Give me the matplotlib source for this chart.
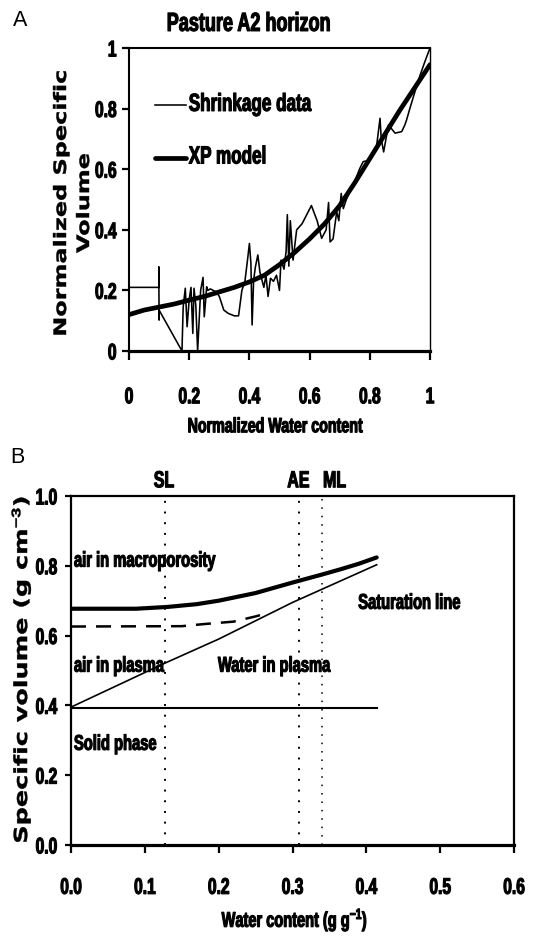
import matplotlib
matplotlib.use("Agg")
import matplotlib.pyplot as plt
from matplotlib.ticker import FixedLocator
from matplotlib.patheffects import AbstractPathEffect
from matplotlib.transforms import Affine2D

plt.rcParams['font.family'] = ['Liberation Sans', 'DejaVu Sans']
plt.rcParams['mathtext.fontset'] = 'custom'
plt.rcParams['mathtext.rm'] = 'Liberation Sans'
plt.rcParams['mathtext.bf'] = 'Liberation Sans:bold'
plt.rcParams['mathtext.it'] = 'Liberation Sans:italic'

# ---------------- Panel A data ----------------
shrink_x = [0.0, 0.099, 0.099, 0.100, 0.100, 0.176, 0.180, 0.187, 0.193, 0.200, 0.206,
            0.212, 0.216, 0.222, 0.228, 0.238, 0.246, 0.250, 0.254, 0.258, 0.262, 0.270,
            0.280, 0.290, 0.300, 0.315, 0.330, 0.350, 0.364, 0.375, 0.385, 0.395, 0.400,
            0.405, 0.409, 0.414, 0.420, 0.428, 0.435, 0.448, 0.455, 0.462, 0.470, 0.480,
            0.490, 0.500, 0.505, 0.515, 0.522, 0.526, 0.531, 0.536, 0.545, 0.557, 0.575,
            0.606, 0.625, 0.640, 0.655, 0.663, 0.668, 0.678, 0.690, 0.697, 0.705, 0.712,
            0.722, 0.734, 0.745, 0.767, 0.778, 0.800, 0.823, 0.834, 0.838, 0.846, 0.862,
            0.884, 0.906, 0.916, 0.922, 0.933, 0.950, 0.967, 0.983, 1.0]
shrink_y = [0.21, 0.21, 0.278, 0.102, 0.135, 0.0, 0.146, 0.207, 0.08, 0.17, 0.21,
            0.058, 0.207, 0.15, 0.0, 0.20, 0.243, 0.113, 0.16, 0.212, 0.20, 0.205,
            0.20, 0.195, 0.18, 0.135, 0.124, 0.116, 0.116, 0.20, 0.229, 0.311, 0.355,
            0.29, 0.086, 0.234, 0.278, 0.317, 0.26, 0.21, 0.25, 0.18, 0.24, 0.23,
            0.25, 0.20, 0.30, 0.27, 0.33, 0.45, 0.28, 0.43, 0.30, 0.40, 0.42,
            0.48, 0.43, 0.372, 0.40, 0.49, 0.36, 0.37, 0.46, 0.43, 0.52, 0.47,
            0.50, 0.526, 0.548, 0.603, 0.625, 0.63, 0.68, 0.768, 0.70, 0.657, 0.746,
            0.719, 0.724, 0.745, 0.762, 0.80, 0.856, 0.91, 0.955, 1.0]

xp_x = [0.0, 0.05, 0.1, 0.15, 0.2, 0.25, 0.3, 0.35, 0.4, 0.45, 0.5, 0.55, 0.6,
        0.65, 0.7, 0.75, 0.8, 0.85, 0.9, 0.95, 1.0]
xp_y = [0.12, 0.135, 0.145, 0.155, 0.168, 0.18, 0.195, 0.21, 0.228, 0.25, 0.285,
        0.325, 0.37, 0.42, 0.48, 0.555, 0.635, 0.715, 0.795, 0.87, 0.945]

a_ticks = [0, 0.2, 0.4, 0.6, 0.8, 1]
a_ticklabels = ['0', '0.2', '0.4', '0.6', '0.8', '1']

# ---------------- Panel B data ----------------
thick_x = [0.0, 0.088, 0.13, 0.17, 0.2, 0.25, 0.3, 0.34, 0.365, 0.39, 0.414]
thick_y = [0.677, 0.677, 0.682, 0.690, 0.700, 0.722, 0.752, 0.775, 0.790, 0.806, 0.824]

sat_x = [0.0, 0.125, 0.2, 0.3, 0.414]
sat_y = [0.395, 0.519, 0.590, 0.695, 0.803]

dash_x = [0.0, 0.15, 0.18, 0.22, 0.25, 0.262]
dash_y = [0.626, 0.627, 0.633, 0.640, 0.655, 0.662]

solid_x = [0.0, 0.414]
solid_y = [0.393, 0.393]

vlines_x = [0.127, 0.309, 0.340]
vlines_lab = ['SL', 'AE', 'ML']
vlines_labx = [0.126, 0.308, 0.357]

b_xticks = [0.0, 0.1, 0.2, 0.3, 0.4, 0.5, 0.6]
b_yticks = [0.0, 0.2, 0.4, 0.6, 0.8, 1.0]


class Reshape(AbstractPathEffect):
    """Scale glyph outlines (narrow/tall lettering) and thicken them slightly."""
    def __init__(self, sx=1.0, sy=1.0, xa='center', ya='center', stroke=0.0):
        super().__init__()
        self.sx, self.sy, self.xa, self.ya, self.stroke = sx, sy, xa, ya, stroke

    def draw_path(self, renderer, gc, tpath, affine, rgbFace=None):
        v = tpath.vertices
        if len(v) == 0:
            return
        xs, ys = v[:, 0], v[:, 1]
        cx = {'left': 0.0, 'right': xs.max(), 'center': 0.5 * (xs.min() + xs.max())}[self.xa]
        cy = {'baseline': 0.0, 'top': ys.max(), 'bottom': ys.min(),
              'center': 0.5 * (ys.min() + ys.max())}[self.ya]
        pre = (Affine2D().translate(-cx, -cy).scale(self.sx, self.sy)
               .translate(cx, cy))
        gc0 = renderer.new_gc()
        gc0.copy_properties(gc)
        gc0.set_linewidth(self.stroke)
        gc0.set_joinstyle('round')
        renderer.draw_path(gc0, tpath, pre + affine, rgbFace)
        gc0.restore()


SY = 1.45
ST = 0.8
fig = plt.figure(figsize=(5.35, 9.4), dpi=100)


def ftext(x, y, s, eff, **kw):
    t = fig.text(x / 535, 1 - y / 940, s, **kw)
    t.set_path_effects([eff])
    return t


# ---------------- Panel A ----------------
axA = fig.add_axes([129/535, 1-351/940, 301/535, 303/940])
l1, = axA.plot(shrink_x, shrink_y, color='black', lw=1.15, label='Shrinkage data')
l2, = axA.plot(xp_x, xp_y, color='black', lw=3.4, label='XP model', solid_capstyle='round')
axA.set_xlim(0, 1)
axA.set_ylim(0, 1)
axA.xaxis.set_major_locator(FixedLocator(a_ticks))
axA.yaxis.set_major_locator(FixedLocator(a_ticks))
axA.set_xticklabels(a_ticklabels)
axA.set_yticklabels(a_ticklabels)
for s in axA.spines.values():
    s.set_linewidth(1.5)
axA.spines['bottom'].set_linewidth(2.3)
axA.spines['right'].set_linewidth(1.0)
axA.tick_params(axis='x', direction='out', length=6.5, width=1.6, pad=19, labelsize=11.2)
axA.tick_params(axis='y', direction='out', length=5, width=1.6, pad=4, labelsize=11.2)
for lab in axA.get_xticklabels():
    lab.set_fontweight('bold')
    lab.set_path_effects([Reshape(1.0, SY, 'center', 'top', ST)])
for lab in axA.get_yticklabels():
    lab.set_fontweight('bold')
    lab.set_path_effects([Reshape(1.0, SY, 'right', 'center', ST)])

leg = axA.legend(handles=[l1, l2], loc='upper left', bbox_to_anchor=(0.085, 0.832),
                 frameon=False, borderpad=0, borderaxespad=0,
                 handlelength=1.82, handletextpad=0.18, labelspacing=2.2,
                 prop={'weight': 'bold', 'size': 12.3})
for t in leg.get_texts():
    t.set_path_effects([Reshape(1.0, 1.45, 'left', 'baseline', ST)])

ftext(248.5, 23.5, 'Pasture A2 horizon', Reshape(1.0, SY, 'center', 'center', ST),
      ha='center', va='center', fontsize=13.0, fontweight='bold')
ftext(275.5, 426, 'Normalized Water content', Reshape(1.0, SY, 'center', 'center', ST),
      ha='center', va='center', fontsize=10.25, fontweight='bold')
ftext(61, 203, 'Normalized Specific', Reshape(1.4, 1.0, 'center', 'center', 0.3),
      ha='center', va='center', rotation=90, fontsize=12.3, fontweight='bold',
      family=['DejaVu Sans'])
ftext(84, 203, 'Volume', Reshape(1.4, 1.0, 'center', 'center', 0.3),
      ha='center', va='center', rotation=90, fontsize=12.3, fontweight='bold',
      family=['DejaVu Sans'])
fig.text(20/535, 1-21/940, 'A', ha='center', va='center', fontsize=15.5)

# ---------------- Panel B ----------------
axB = fig.add_axes([71/535, 1-845/940, 443/535, 349/940])
axB.plot(thick_x, thick_y, color='black', lw=3.0, solid_capstyle='round')
axB.plot(sat_x, sat_y, color='black', lw=1.2)
axB.plot(dash_x, dash_y, color='black', lw=1.8, dashes=(6, 4))
axB.plot(solid_x, solid_y, color='black', lw=1.5)
for vx, vw in zip(vlines_x, [1.4, 1.4, 1.1]):
    axB.axvline(vx, color='black', lw=vw, linestyle=(0, (1, 4.5)))
for lab, lx in zip(vlines_lab, vlines_labx):
    t = axB.text(lx, 1.045, lab, ha='center', va='center', fontsize=11.5, fontweight='bold')
    t.set_path_effects([Reshape(1.0, SY, 'center', 'center', ST)])
axB.set_xlim(0, 0.6)
axB.set_ylim(0, 1.0)
axB.xaxis.set_major_locator(FixedLocator(b_xticks))
axB.yaxis.set_major_locator(FixedLocator(b_yticks))
axB.set_xticklabels([f'{v:.1f}' for v in b_xticks])
axB.set_yticklabels([f'{v:.1f}' for v in b_yticks])
for s in axB.spines.values():
    s.set_linewidth(1.6)
axB.spines['bottom'].set_linewidth(2.3)
axB.tick_params(axis='x', direction='out', length=6, width=1.6, pad=17, labelsize=11.2)
axB.tick_params(axis='y', direction='out', length=4, width=1.6, pad=6, labelsize=11.2)
for lab in axB.get_xticklabels():
    lab.set_fontweight('bold')
    lab.set_path_effects([Reshape(1.0, SY, 'center', 'top', ST)])
for lab in axB.get_yticklabels():
    lab.set_fontweight('bold')
    lab.set_path_effects([Reshape(1.0, SY, 'right', 'center', ST)])

txt_kw = dict(fontsize=10.6, fontweight='bold', va='center', ha='left')
for tx, ty, ts in [(0.004, 0.814, 'air in macroporosity'),
                   (0.004, 0.513, 'air in plasma'),
                   (0.199, 0.513, 'Water in plasma'),
                   (0.389, 0.695, 'Saturation line'),
                   (0.004, 0.289, 'Solid phase')]:
    t = axB.text(tx, ty, ts, **txt_kw)
    t.set_path_effects([Reshape(1.0, SY, 'left', 'center', ST)])

ftext(295, 920, 'Water content (g g$^{\\mathbf{-1}}$)', Reshape(1.0, SY, 'center', 'center', ST),
      ha='center', va='center', fontsize=10.5, fontweight='bold')
ftext(21, 670, 'Specific volume (g cm$^{\\mathbf{-3}}$)', Reshape(1.41, 1.0, 'center', 'center', 0.3),
      ha='center', va='center', rotation=90, fontsize=13, fontweight='bold',
      family=['DejaVu Sans'])
fig.text(17/535, 1-457/940, 'B', ha='center', va='center', fontsize=15.5)

fig.savefig('out.png', dpi=100)
